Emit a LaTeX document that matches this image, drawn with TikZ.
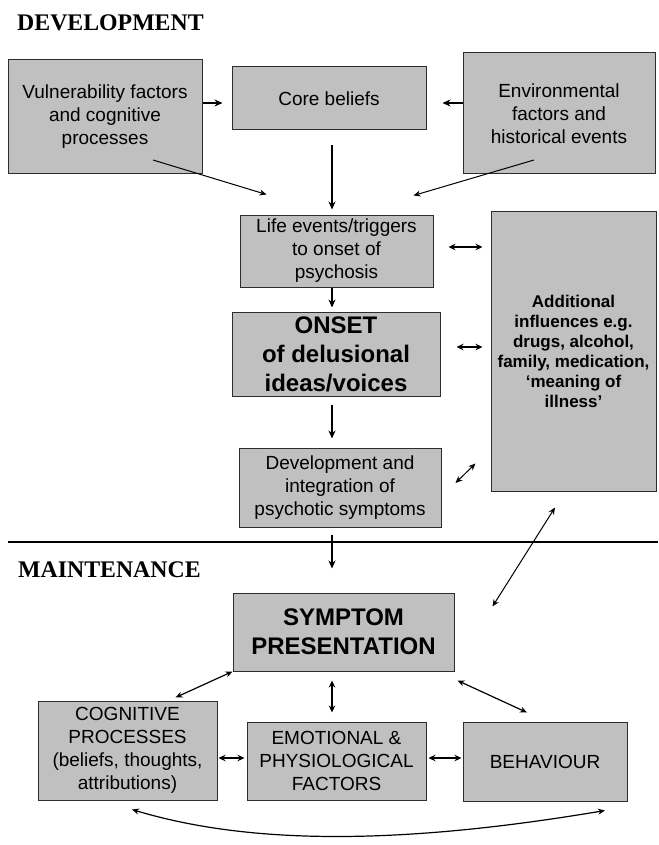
\documentclass[tikz,border=0pt]{standalone}
\usepackage{fontspec}
\setmainfont{Liberation Serif}
\setsansfont{Liberation Sans}
\usetikzlibrary{arrows.meta,calc}
\definecolor{boxgray}{RGB}{192,192,192}
\definecolor{edgegray}{RGB}{45,45,45}
\tikzset{
  box/.style={draw=edgegray, fill=boxgray, line width=1pt, align=center, inner sep=0pt,
    font=\sffamily\fontsize{19}{23}\selectfont},
  boldbox/.style={box, font=\sffamily\bfseries\fontsize{24}{29}\selectfont},
  addbox/.style={box, font=\sffamily\bfseries\fontsize{17}{20}\selectfont},
  heading/.style={anchor=base west, inner sep=0pt, font=\rmfamily\bfseries\fontsize{23.8}{28}\selectfont},
  arr/.style={-{Stealth[length=8pt,width=7pt]}, line width=1.6pt},
  darr/.style={{Stealth[length=7pt,width=6.5pt]}-{Stealth[length=7pt,width=6.5pt]}, line width=1.5pt},
  diagarr/.style={-{Stealth[length=7pt,width=6pt]}, line width=1pt},
  diagdarr/.style={{Stealth[length=7pt,width=6pt]}-{Stealth[length=7pt,width=6pt]}, line width=1pt},
}
\begin{document}
\begin{tikzpicture}[x=1pt,y=-1pt]
\useasboundingbox (0,0) rectangle (658,845);
\fill[white] (0,0) rectangle (658,845);

% headings
\node[heading] (devh) at (17,31) {DEVELOPMENT};
\node[heading] (mainh) at (18,577) {MAINTENANCE};

% development boxes
\node[box, minimum width=194pt, minimum height=114pt] (vul) at (105,117) {Vulnerability factors\\and cognitive\\processes};
\node[box, minimum width=194pt, minimum height=63pt] (core) at (329,98.5) {Core beliefs};
\node[box, minimum width=192pt, minimum height=121pt] (env) at (559,113.5) {Environmental\\factors and\\historical events};
\node[box, minimum width=193pt, minimum height=72pt] (life) at (336.5,251) {Life events/triggers\\to onset of\\psychosis};
\node[boldbox, minimum width=208pt, minimum height=84pt] (onset) at (336,354) {ONSET\\of delusional\\ideas/voices};
\node[box, minimum width=202pt, minimum height=79pt] (dev) at (340,487.5) {Development and\\integration of\\psychotic symptoms};
\node[addbox, minimum width=165pt, minimum height=280pt] (add) at (573.5,351) {Additional\\influences e.g.\\drugs, alcohol,\\family, medication,\\‘meaning of\\illness’};

% maintenance boxes
\node[boldbox, minimum width=221pt, minimum height=78pt] (symp) at (343.5,632) {SYMPTOM\\PRESENTATION};
\node[box, minimum width=179pt, minimum height=99pt] (cog) at (127.5,750.5) {COGNITIVE\\PROCESSES\\(beliefs, thoughts,\\attributions)};
\node[box, minimum width=179pt, minimum height=78pt] (emo) at (336.5,761) {EMOTIONAL \&\\PHYSIOLOGICAL\\FACTORS};
\node[box, minimum width=164pt, minimum height=79pt] (beh) at (545,761.5) {BEHAVIOUR};

% divider
\draw[line width=2pt] (8,542) -- (658,542);

% development connectors
\draw[arr, shorten >=9pt] ([yshift=14pt]vul.east) -- ([yshift=14pt]vul.east -| core.west);
\draw[arr, shorten >=16pt] ([yshift=10.5pt]env.west) -- ([yshift=10.5pt]env.west -| core.east);
\draw[arr, shorten <=15pt, shorten >=5pt] ([xshift=3pt]core.south) -- ([xshift=3pt]core.south |- life.north);
\draw[diagarr] ($(vul.center)+(48,43)$) -- ($(life.north west)+(27,-20)$);
\draw[diagarr] ($(env.center)+(-25,46.5)$) -- ($(life.north east)+(-20,-19)$);
\draw[darr, shorten <=15pt, shorten >=8pt] ([yshift=4pt]life.east) -- ([yshift=4pt]life.east -| add.west);
\draw[arr, shorten >=4pt] ([xshift=-4.5pt]life.south) -- ([xshift=-4.5pt]life.south |- onset.north);
\draw[darr, shorten <=16pt, shorten >=8pt] ([yshift=7pt]onset.east) -- ([yshift=7pt]onset.east -| add.west);
\draw[arr, shorten <=8pt, shorten >=9pt] ([xshift=-4pt]onset.south) -- ([xshift=-4pt]onset.south |- dev.north);
\draw[diagdarr] ($(dev.east)+(14,-4.5)$) -- ($(add.south west)+(-15,-28)$);
\draw[arr, shorten <=7pt, shorten >=24pt] ([xshift=-8pt]dev.south) -- ([xshift=-8pt]dev.south |- symp.north);
\draw[diagdarr] ($(add.south)+(-18.5,16)$) -- ($(symp.north east)+(38,14)$);

% maintenance connectors
\draw[diagdarr, line width=1.2pt] (symp.south west) -- ($(cog.north east)+(-42,-3)$);
\draw[darr, shorten <=9pt, shorten >=9pt] ([xshift=-11.5pt]symp.south) -- ([xshift=-11.5pt]symp.south |- emo.north);
\draw[diagdarr, line width=1.2pt] ($(symp.south east)+(3,9)$) -- ($(beh.north)+(-18,-9)$);
\draw[darr, shorten <=1pt, shorten >=2pt] ([yshift=-7.5pt]cog.east) -- ([yshift=-7.5pt]cog.east -| emo.west);
\draw[darr, shorten <=2pt, shorten >=1pt] ([yshift=3pt]emo.east) -- ([yshift=3pt]emo.east -| beh.west);
\draw[diagdarr, line width=1.2pt] ($(cog.south)+(4.5,9)$) .. controls (250,845) and (400,845) .. ($(beh.south)+(60,9)$);
\end{tikzpicture}
\end{document}
